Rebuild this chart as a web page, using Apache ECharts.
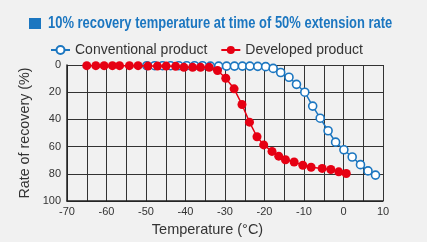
<!DOCTYPE html>
<html><head><meta charset="utf-8">
<script src="https://cdn.jsdelivr.net/npm/echarts@6/dist/echarts.min.js"></script>
<style>html,body{margin:0;padding:0;background:#f1f1f1}#c{width:427px;height:242px}</style>
</head><body><div id="c"></div>
<script>
const titleText = '10% recovery temperature at time of 50% extension rate';
const seriesNames = ['Conventional product', 'Developed product'];
const conventional = [
  [-49.8,0.5],[-47.8,0.5],[-45.8,0.5],[-43.8,0.5],[-41.7,0.5],[-39.7,0.5],[-37.7,0.5],[-35.7,0.5],
  [-33.7,0.8],[-31.6,0.8],[-29.6,0.8],[-27.6,0.8],[-25.6,0.8],[-23.7,0.8],[-21.7,1],[-19.7,1.2],
  [-17.8,2.5],[-15.9,5.5],[-13.8,9],[-11.9,14.2],[-9.8,20],[-7.8,30.2],[-5.9,39.1],[-3.9,48.3],
  [-2,56.7],[0.1,62.3],[2.2,67.6],[4.3,73.2],[6.2,77.8],[8.1,80.9]
];
const developed = [
  [-65,0.5],[-62.7,0.5],[-60.6,0.5],[-58.5,0.5],[-56.7,0.5],[-54.2,0.5],[-52,0.5],[-49.5,0.8],
  [-47.1,0.8],[-44.9,0.8],[-42.5,1],[-40.4,1.7],[-38.2,1.7],[-36.2,1.7],[-34,1.7],[-31.9,4],
  [-29.8,9.7],[-27.7,17.5],[-25.7,29],[-23.8,42],[-21.9,52.7],[-20.2,58.7],[-18.1,63.5],[-16.4,67],
  [-14.7,69.6],[-12.5,71.3],[-10.3,73.7],[-8.2,75.1],[-5.4,76],[-3.2,76.8],[-1.2,78.5],[0.7,79.7]
];
const xAxisName = 'Temperature (°C)';
const yAxisName = 'Rate of recovery (%)';

const BLUE = '#1b76c0', RED = '#e60013';
const FONT = '"Liberation Sans", Arial, sans-serif';
const chart = echarts.init(document.getElementById('c'));
chart.setOption({
  backgroundColor: '#f1f1f1',
  animation: false,
  textStyle: {fontFamily: FONT},
  graphic: [
    {type: 'rect', shape: {x: 29, y: 18, width: 12, height: 11}, style: {fill: BLUE}},
    {type: 'text', x: 48, y: 23.5, scaleX: 0.81, scaleY: 1,
      style: {text: titleText, fill: BLUE, font: 'bold 16px "Liberation Sans", Arial, sans-serif',
        textAlign: 'left', textVerticalAlign: 'middle'}}
  ],
  legend: {
    left: 45, top: 38, itemWidth: 19, itemHeight: 10, itemGap: 13,
    textStyle: {color: '#333', fontSize: 14, fontFamily: FONT},
    data: seriesNames
  },
  grid: {left: 67, right: 44, top: 65, bottom: 39},
  xAxis: {
    type: 'value', min: -70, max: 10, interval: 5,
    name: xAxisName, nameLocation: 'middle', nameGap: 16,
    nameTextStyle: {color: '#333', fontSize: 14.5, fontFamily: FONT, padding: [0, 35, 0, 0]},
    axisLine: {show: true, onZero: false, lineStyle: {color: '#222', width: 1.5}},
    axisTick: {show: false},
    axisLabel: {color: '#333', fontSize: 11, margin: 5, fontFamily: FONT,
      formatter: v => (v % 10 === 0 ? String(v) : '')},
    splitLine: {show: true, lineStyle: {color: '#333', width: 1}}
  },
  yAxis: {
    type: 'value', min: 0, max: 100, interval: 20, inverse: true,
    name: yAxisName, nameLocation: 'middle', nameGap: 27, nameRotate: 90,
    nameTextStyle: {color: '#333', fontSize: 14.3, fontFamily: FONT},
    axisLine: {show: true, onZero: false, lineStyle: {color: '#222', width: 1.5}},
    axisTick: {show: false},
    axisLabel: {color: '#333', fontSize: 11, margin: 6, fontFamily: FONT},
    splitLine: {show: true, lineStyle: {color: '#333', width: 1}}
  },
  series: [
    {
      name: seriesNames[0], type: 'line', data: conventional, z: 3,
      symbol: 'circle', symbolSize: 8, showAllSymbol: true,
      lineStyle: {color: BLUE, width: 1.5},
      itemStyle: {color: '#fff', borderColor: BLUE, borderWidth: 1.6}
    },
    {
      name: seriesNames[1], type: 'line', data: developed, z: 4,
      symbol: 'circle', symbolSize: 9, showAllSymbol: true,
      lineStyle: {color: RED, width: 1.5},
      itemStyle: {color: RED, borderColor: RED, borderWidth: 0}
    }
  ]
});
</script></body></html>
